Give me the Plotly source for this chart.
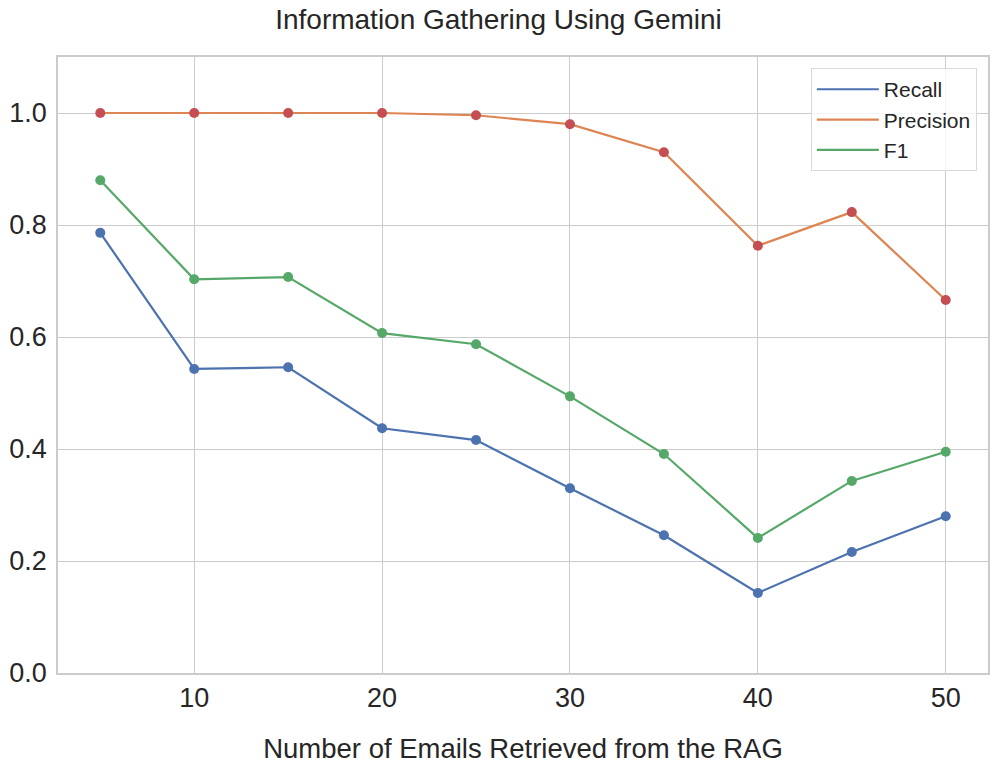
import plotly.graph_objects as go

emails = [5, 10, 15, 20, 25, 30, 35, 40, 45, 50]
recall = [0.786, 0.543, 0.546, 0.437, 0.416, 0.330, 0.246, 0.143, 0.216, 0.280]
precision = [1.0, 1.0, 1.0, 1.0, 0.996, 0.980, 0.930, 0.763, 0.823, 0.666]
f1 = [0.880, 0.703, 0.707, 0.607, 0.587, 0.494, 0.391, 0.241, 0.343, 0.395]

series = [
    ("Recall", recall, "#4c72b0", "#4c72b0"),
    ("Precision", precision, "#dd8452", "#c44e52"),
    ("F1", f1, "#55a868", "#55a868"),
]

fig = go.Figure()
for name, vals, lc, mc in series:
    fig.add_trace(go.Scatter(x=emails, y=vals, mode="lines", name=name,
                             line=dict(color=lc, width=2.2)))
for name, vals, lc, mc in series:
    fig.add_trace(go.Scatter(x=emails, y=vals, mode="markers", showlegend=False,
                             marker=dict(color=mc, size=10, line=dict(width=0))))

fig.update_layout(
    width=997, height=773,
    paper_bgcolor="white", plot_bgcolor="white",
    font=dict(family="Liberation Sans, Arial, sans-serif", size=27, color="#262626"),
    margin=dict(l=58, r=9, t=57, b=100, autoexpand=False),
    title=dict(text="Information Gathering Using Gemini", x=0.5, xanchor="center",
               y=1 - 9 / 773, yanchor="top", font=dict(size=28), automargin=False),
    xaxis=dict(range=[2.75, 52.25], tickvals=[10, 20, 30, 40, 50],
               showgrid=True, gridcolor="#cccccc", gridwidth=1.3,
               showline=True, linecolor="#cccccc", linewidth=1.5, mirror=True,
               zeroline=False, ticks="", automargin=False,
               title=dict(text="Number of Emails Retrieved from the RAG", standoff=27,
                          font=dict(size=27.5))),
    yaxis=dict(range=[0, 1.1], tickvals=[0, 0.2, 0.4, 0.6, 0.8, 1.0],
               ticktext=["0.0", "0.2", "0.4", "0.6", "0.8", "1.0"],
               showgrid=True, gridcolor="#cccccc", gridwidth=1.3,
               showline=True, linecolor="#cccccc", linewidth=1.5, mirror=True,
               zeroline=False, ticks="outside", ticklen=4, tickcolor="rgba(0,0,0,0)",
               automargin=False),
    legend=dict(x=0.988, y=0.982, xanchor="right", yanchor="top",
                bgcolor="rgba(255,255,255,0.8)", bordercolor="#d9d9d9", borderwidth=1,
                font=dict(size=21), itemwidth=62, tracegroupgap=0),
)

fig.write_html("out.html", config={"displayModeBar": False},
               post_script="document.body.style.margin='0';document.body.style.overflow='hidden';")
